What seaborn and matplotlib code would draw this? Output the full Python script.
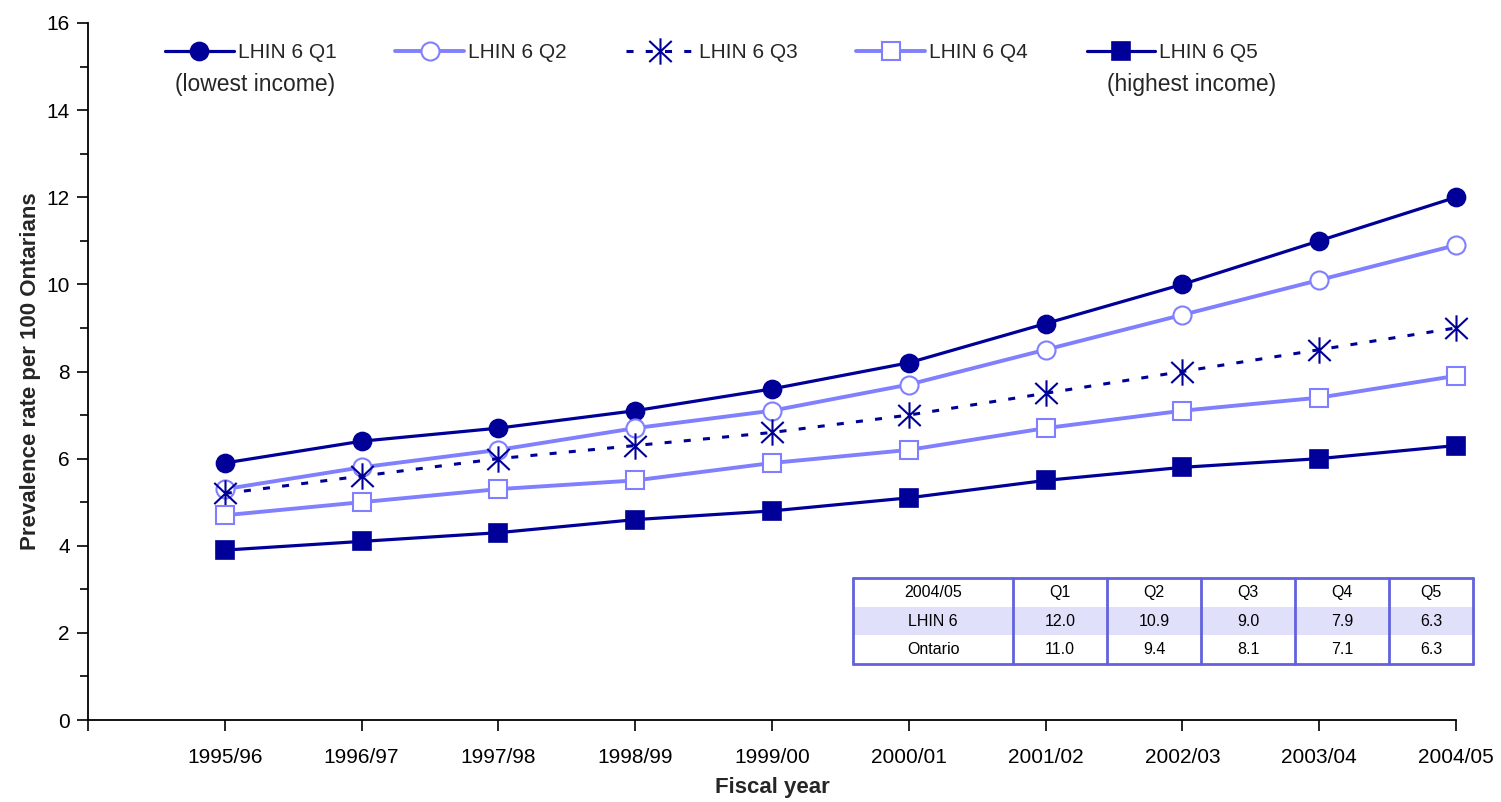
import numpy as np
import pandas as pd
import matplotlib
matplotlib.use("Agg")
import matplotlib.pyplot as plt
from matplotlib.path import Path
from matplotlib.lines import Line2D
import seaborn as sns

years = ["1995/96", "1996/97", "1997/98", "1998/99", "1999/00",
         "2000/01", "2001/02", "2002/03", "2003/04", "2004/05"]
q1 = [5.9, 6.4, 6.7, 7.1, 7.6, 8.2, 9.1, 10.0, 11.0, 12.0]
q2 = [5.3, 5.8, 6.2, 6.7, 7.1, 7.7, 8.5, 9.3, 10.1, 10.9]
q3 = [5.2, 5.6, 6.0, 6.3, 6.6, 7.0, 7.5, 8.0, 8.5, 9.0]
q4 = [4.7, 5.0, 5.3, 5.5, 5.9, 6.2, 6.7, 7.1, 7.4, 7.9]
q5 = [3.9, 4.1, 4.3, 4.6, 4.8, 5.1, 5.5, 5.8, 6.0, 6.3]
series_names = ["LHIN 6 Q1", "LHIN 6 Q2", "LHIN 6 Q3", "LHIN 6 Q4", "LHIN 6 Q5"]

table_header = ["2004/05", "Q1", "Q2", "Q3", "Q4", "Q5"]
table_lhin = ["LHIN 6", "12.0", "10.9", "9.0", "7.9", "6.3"]
table_ont = ["Ontario", "11.0", "9.4", "8.1", "7.1", "6.3"]

sns.set_theme(style="ticks")
plt.rcParams['font.family'] = ['Liberation Sans', 'DejaVu Sans']

DARK = "#000099"
LIGHT = "#8080FF"
FS = 15

fig = plt.figure(figsize=(15.01, 8.02), dpi=100)
ax = fig.add_axes([88/1501, (802-720)/802, (1456-88)/1501, (720-23)/802])

star = Path([(0, -1), (0, 1), (-0.85, -0.8), (0.85, 0.8), (-0.85, 0.8), (0.85, -0.8)],
            [Path.MOVETO, Path.LINETO, Path.MOVETO, Path.LINETO, Path.MOVETO, Path.LINETO])

styles = [
    dict(color=DARK, marker="o", ms=13, mfc=DARK, mec=DARK, lw=2.3, ls="-", mew=1.2),
    dict(color=LIGHT, marker="o", ms=13, mfc="white", mec=LIGHT, lw=2.8, ls="-", mew=1.5),
    dict(color=DARK, marker=star, ms=19, mfc="none", mec=DARK, lw=2.2, ls=(0, (2.3, 4.0)), mew=1.5),
    dict(color=LIGHT, marker="s", ms=12.5, mfc="white", mec=LIGHT, lw=2.8, ls="-", mew=1.5),
    dict(color=DARK, marker="s", ms=13.5, mfc=DARK, mec=DARK, lw=2.3, ls="-", mew=1.2),
]

xpos = np.arange(len(years))
handles = []
for name, vals, st in zip(series_names, [q1, q2, q3, q4, q5], styles):
    df = pd.DataFrame({"x": xpos, "y": vals})
    sns.lineplot(data=df, x="x", y="y", ax=ax, color=st["color"], legend=False)
    line = ax.lines[-1]
    line.set_linestyle(st["ls"])
    line.set_linewidth(st["lw"])
    line.set_marker(st["marker"])
    line.set_markersize(st["ms"])
    line.set_markerfacecolor(st["mfc"])
    line.set_markeredgecolor(st["mec"])
    line.set_markeredgewidth(st["mew"])
    line.set_clip_on(False)
    line.set_zorder(3)
    handles.append(Line2D([], [], color=st["color"], ls=st["ls"], lw=st["lw"],
                          marker=st["marker"], ms=st["ms"], mfc=st["mfc"],
                          mec=st["mec"], mew=st["mew"]))

ax.set_xlim(-1, 9)
ax.set_ylim(0, 16)
ax.set_xticks(list(xpos))
ax.set_xticklabels(years)
ax.set_xticks([-1], minor=True)
ax.set_yticks(np.arange(0, 17, 2))
ax.set_yticks(np.arange(1, 16, 2), minor=True)
ax.tick_params(axis="x", which="both", direction="out", length=8, width=1.2,
               pad=12, labelsize=FS, color="black", labelcolor="black")
ax.tick_params(axis="y", which="major", direction="out", length=8, width=1.2,
               pad=5, labelsize=FS, color="black", labelcolor="black")
ax.tick_params(axis="y", which="minor", direction="out", length=6, width=1.2, color="black")
for s in ["top", "right"]:
    ax.spines[s].set_visible(False)
for s in ["left", "bottom"]:
    ax.spines[s].set_color("black")
    ax.spines[s].set_linewidth(1.3)

ax.set_ylabel("Prevalence rate per 100 Ontarians", fontsize=16, fontweight="bold", labelpad=4)
ax.set_xlabel("Fiscal year", fontsize=16, fontweight="bold", labelpad=7)

leg = ax.legend(handles, series_names, loc="upper left", bbox_to_anchor=(165/1501, 1 - 43/802),
                bbox_transform=fig.transFigure, ncol=5, frameon=False, fontsize=FS,
                handlelength=3.3, handletextpad=0.2, columnspacing=2.82, borderpad=0,
                borderaxespad=0)
fig.text(255/1501, 1 - 84/802, "(lowest income)", ha="center", va="center", fontsize=16.5)
fig.text(1192/1501, 1 - 84/802, "(highest income)", ha="center", va="center", fontsize=16.5)

# Table
tx0, tx1 = 853, 1473
ty0, ty1 = 578, 664
bbox = [(tx0 - 88) / 1368, (720 - ty1) / 697, (tx1 - tx0) / 1368, (ty1 - ty0) / 697]
colw = np.array([160, 94, 94, 94, 94, 84], dtype=float)
tbl = ax.table(cellText=[table_header, table_lhin, table_ont], cellLoc="center",
               bbox=bbox, colWidths=list(colw / colw.sum()))
tbl.auto_set_font_size(False)
tbl.set_fontsize(11.5)
tbl.set_zorder(5)
for (r, c), cell in tbl.get_celld().items():
    cell.set_linewidth(0)
    cell.set_facecolor("#E0E0FA" if r == 1 else "white")
    cell.get_text().set_color("black")
    cell.set_clip_on(False)

edges = np.concatenate([[0], np.cumsum(colw)]) + tx0
tr = fig.transFigure
for xe in edges:
    fig.add_artist(Line2D([xe/1501, xe/1501], [1 - ty0/802, 1 - ty1/802], color="#6262DD",
                          lw=2.0, transform=tr, zorder=6))
for ye in [ty0, ty1]:
    fig.add_artist(Line2D([tx0/1501, tx1/1501], [1 - ye/802, 1 - ye/802], color="#6262DD",
                          lw=2.0, transform=tr, zorder=6))

fig.savefig("out.png", dpi=100)
